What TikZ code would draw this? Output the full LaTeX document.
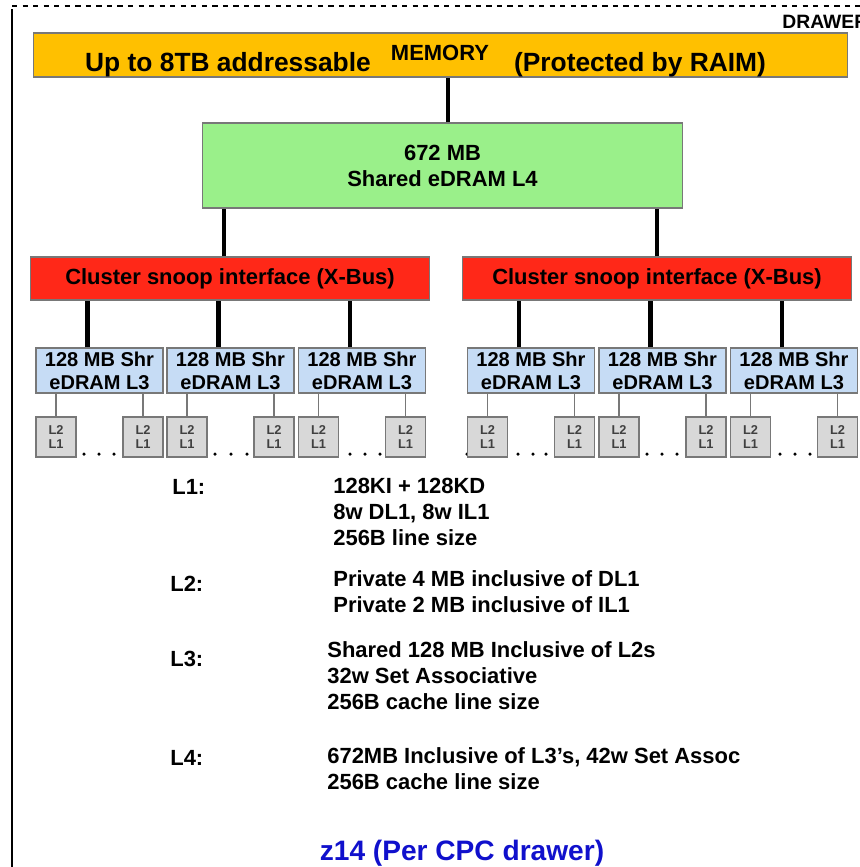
\documentclass[tikz,border=0pt]{standalone}
\usepackage{fontspec}
\setmainfont{Liberation Sans}
\usetikzlibrary{positioning}
\definecolor{memorange}{RGB}{255,192,0}
\definecolor{lfourgreen}{RGB}{154,240,138}
\definecolor{busred}{RGB}{255,40,24}
\definecolor{lthreeblue}{RGB}{198,220,245}
\definecolor{ltwogray}{RGB}{216,216,216}
\definecolor{boxedge}{RGB}{120,120,120}
\definecolor{titleblue}{RGB}{16,16,204}

\begin{document}
\begin{tikzpicture}[x=0.02cm, y=-0.02cm, box/.style={draw=boxedge, line
      width=0.6pt, inner sep=0pt, align=center}, bigfont/.style={font=\fontsize{12.5}{14.8}\selectfont\bfseries},
      lthree/.style={box, fill=lthreeblue, minimum width=2.54cm, minimum
      height=0.9cm, font=\fontsize{11.4}{13}\selectfont\bfseries},
      ltwo/.style={box, fill=ltwogray, minimum width=0.8cm, minimum
      height=0.8cm, text=black!75, font=\fontsize{7.3}{7.8}\selectfont\bfseries},
      bus/.style={line width=2.8pt}, tap/.style={draw=boxedge, line width=0.6pt},
      lvl/.style={bigfont, anchor=west, inner sep=0pt}, desc/.style={lvl, align=left} ]

    \useasboundingbox (0,0) rectangle (860,867);

    % Drawer frame
    \draw[line width=0.8pt] (12,867) -- (12,9); \draw[dashed, line width=0.8pt] (12,6) -- (860,6);
    \node[anchor=west, inner sep=0pt, font=\fontsize{11}{13}\selectfont\bfseries] (drawer) at (782,22) {DRAWER};

    % Memory
    \node[box, fill=memorange, minimum width=16.3cm, minimum height=0.88cm] (mem) at (440.5,55) {};
    \node[font=\fontsize{12.5}{14}\selectfont\bfseries] (memlbl) at (440,53) {MEMORY};
    \node[font=\fontsize{15}{17}\selectfont\bfseries] (memleft) at (228,65) {Up to 8TB addressable};
    \node[font=\fontsize{15}{17}\selectfont\bfseries] (memright) at (640,65) {(Protected by RAIM)};

    % L4 and cluster interfaces
    \node[box, bigfont, fill=lfourgreen, minimum width=9.62cm, minimum height=1.7cm] (l4) at (442.5,165.5) {672 MB\\Shared eDRAM L4};
    \node[box, bigfont, fill=busred, minimum width=8cm, minimum height=0.86cm] (xl) at (230,278.5) {Cluster snoop interface (X-Bus)};
    \node[box, bigfont, fill=busred, minimum width=7.8cm, minimum height=0.86cm] (xr) at (657,278.5) {Cluster snoop interface (X-Bus)};

    \draw[bus] ([xshift=0.11cm]l4.north) -- ([xshift=0.11cm]l4.north |- mem.south);
    \draw[bus] ([xshift=-0.12cm]xl.north) -- ([xshift=-0.12cm]xl.north |- l4.south);
    \draw[bus] (xr.north) -- (xr.north |- l4.south);

    % L3 caches
    \node[lthree] (l3a) at (99.5,370.5) {128 MB Shr\\eDRAM L3}; \node[lthree] (l3b) at (230.5,370.5) {128 MB Shr\\eDRAM L3};
    \node[lthree] (l3c) at (362,370.5) {128 MB Shr\\eDRAM L3}; \node[lthree] (l3d) at (531,370.5) {128 MB Shr\\eDRAM L3};
    \node[lthree] (l3e) at (662.5,370.5) {128 MB Shr\\eDRAM L3}; \node[lthree] (l3f) at (794,370.5) {128 MB Shr\\eDRAM L3};

    \foreach \c/\x in {a/xl, b/xl, c/xl, d/xr, e/xr, f/xr}
      \draw[bus] ([xshift=-0.24cm]l3\c.north) -- ([xshift=-0.24cm]l3\c.north |- \x.south);

    % dots between cores
    \foreach \d in {84,99,114, 215,231,247, 292, 350,365,380, 467, 518,533,546, 647,662,677, 780,795,810}
      \fill (\d,454) circle (0.035cm);

    % L2/L1 cores
    \node[ltwo] (l2a) at (56,437) {L2\\L1}; \node[ltwo] (l2b) at (143,437) {L2\\L1};
    \node[ltwo] (l2c) at (187,437) {L2\\L1}; \node[ltwo] (l2d) at (274,437) {L2\\L1};
    \node[ltwo] (l2e) at (318.5,437) {L2\\L1}; \node[ltwo] (l2f) at (405.5,437) {L2\\L1};
    \node[ltwo] (l2g) at (487.5,437) {L2\\L1}; \node[ltwo] (l2h) at (574.5,437) {L2\\L1};
    \node[ltwo] (l2i) at (619,437) {L2\\L1}; \node[ltwo] (l2j) at (706,437) {L2\\L1};
    \node[ltwo] (l2k) at (750.5,437) {L2\\L1}; \node[ltwo] (l2l) at (837.5,437) {L2\\L1};

    \foreach \k/\p in {a/a, b/a, c/b, d/b, e/c, f/c, g/d, h/d, i/e, j/e, k/f, l/f}
      \draw[tap] (l2\k.north) -- (l2\k.north |- l3\p.south);

    % Cache summary
    \node[lvl] (t1) at (172,487) {L1:}; \node[desc] (d1) at (333,511.5) {128KI + 128KD\\8w DL1, 8w IL1\\256B line size};
    \node[lvl] (t2) at (170,584) {L2:}; \node[desc] (d2) at (333,592) {Private 4 MB inclusive of DL1\\Private 2 MB inclusive of IL1};
    \node[lvl] (t3) at (170,659) {L3:}; \node[desc] (d3) at (327,675.5) {Shared 128 MB Inclusive of L2s\\32w Set Associative\\256B cache line size};
    \node[lvl] (t4) at (170,758) {L4:}; \node[desc] (d4) at (327,769) {672MB Inclusive of L3’s, 42w Set Assoc\\256B cache line size};

    \node[text=titleblue, font=\fontsize{16}{18}\selectfont\bfseries] (caption) at (462,853) {z14 (Per CPC drawer)};

  \end{tikzpicture}
\end{document}
